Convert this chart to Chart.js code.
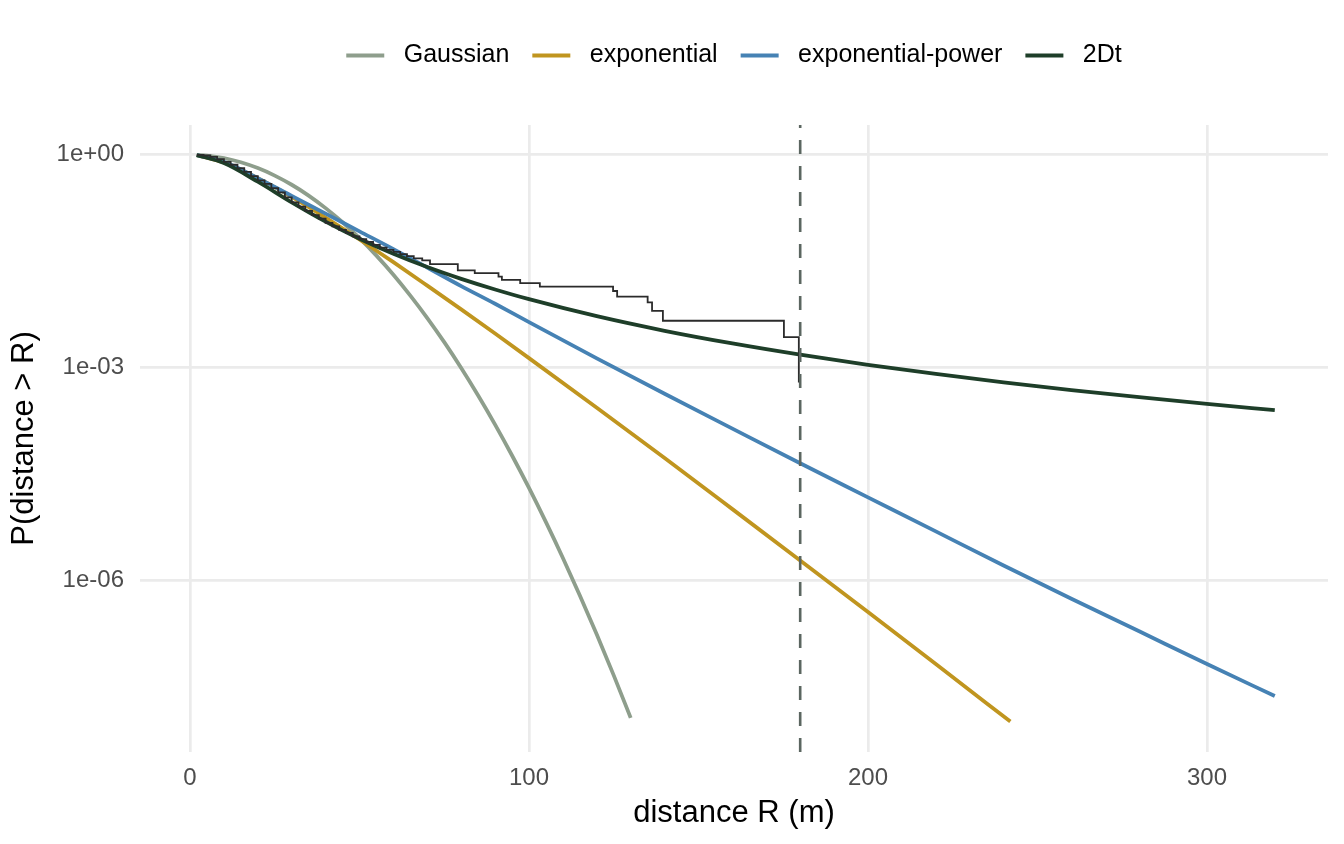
<!DOCTYPE html>
<html>
<head>
<meta charset="utf-8">
<script src="https://cdn.jsdelivr.net/npm/chart.js@4.4.1/dist/chart.umd.min.js"></script>
<style>
  html, body { margin: 0; padding: 0; background: #ffffff; }
  canvas { display: block; }
</style>
</head>
<body>
<canvas id="chart" width="1344" height="844"></canvas>
<script>
// Courbes ajustées (distance en m, P(distance > R))
const gaussianR = [2, 5, 10, 15, 20, 25, 30, 35, 40, 45, 50, 55, 60, 65, 70, 75, 80, 85, 90, 95, 100, 105, 110, 115, 120, 125, 130];
const gaussianP = [0.996, 0.973, 0.898, 0.784, 0.649, 0.509, 0.378, 0.266, 0.177, 0.112, 0.0670, 0.0379, 0.0204, 0.01035, 0.00499, 2.28e-3, 9.86e-4, 4.04e-4, 1.57e-4, 5.76e-5, 2.01e-5, 6.62e-6, 2.07e-6, 6.13e-7, 1.72e-7, 4.57e-8, 1.15e-8];

const exponentialR = [2, 10, 20, 30, 40, 50, 60, 70, 80, 90, 100, 120, 140, 160, 180, 200, 220, 242];
const exponentialP = [0.986, 0.777, 0.469, 0.255, 0.130, 0.0639, 0.0306, 0.0143, 6.62e-3, 3.02e-3, 1.36e-3, 2.72e-4, 5.30e-5, 1.01e-5, 1.91e-6, 3.57e-7, 6.61e-8, 1.02e-8];

const expPowerR = [2, 10, 20, 30, 40, 50, 60, 70, 80, 90, 100, 120, 140, 160, 180, 200, 220, 240, 260, 280, 300, 320];
const expPowerP = [0.989, 0.794, 0.468, 0.263, 0.148, 0.0832, 0.0468, 0.0257, 0.0141, 7.94e-3, 4.37e-3, 1.35e-3, 4.27e-4, 1.38e-4, 4.47e-5, 1.48e-5, 4.90e-6, 1.62e-6, 5.50e-7, 1.91e-7, 6.61e-8, 2.34e-8];

const twoDtR = [2, 10, 20, 30, 40, 50, 60, 70, 80, 90, 100, 120, 140, 160, 180, 200, 220, 240, 260, 280, 300, 320];
const twoDtP = [0.988, 0.765, 0.417, 0.213, 0.114, 0.0655, 0.0402, 0.0261, 0.0178, 0.0126, 9.20e-3, 5.30e-3, 3.30e-3, 2.19e-3, 1.52e-3, 1.09e-3, 8.13e-4, 6.19e-4, 4.82e-4, 3.82e-4, 3.08e-4, 2.51e-4];

// Survie empirique (escalier)
const empiricalR = [2, 4, 6, 8, 10, 12, 14, 16, 18, 20, 22, 24, 26, 28, 30, 32, 34, 36, 38, 40, 42, 44, 46, 48, 50, 52, 54, 56, 58, 60, 62, 64, 66, 68.5, 70.8, 79, 84, 91, 92, 97.4, 103.2, 124.8, 126, 135, 136.3, 139.5, 175.2, 179.6];
const empiricalP = [1, 0.977, 0.933, 0.871, 0.794, 0.724, 0.646, 0.575, 0.501, 0.437, 0.389, 0.339, 0.295, 0.251, 0.214, 0.186, 0.162, 0.141, 0.126, 0.110, 0.0977, 0.0871, 0.0794, 0.0708, 0.0646, 0.0589, 0.0537, 0.0490, 0.0457, 0.0427, 0.0398, 0.0372, 0.0347, 0.0324, 0.0288, 0.0234, 0.0214, 0.0191, 0.0172, 0.0155, 0.0138, 0.0120, 0.0100, 0.00832, 0.00631, 0.00457, 0.00269, 0.000617];

const seriesNames = ['Gaussian', 'exponential', 'exponential-power', '2Dt'];
const vlineX = 180;

const xTickValues = [0, 100, 200, 300];
const yTickValues = [1, 1e-3, 1e-6];
const yTickLabels = ['1e+00', '1e-03', '1e-06'];

const xMin = -14.75, xMax = 335.7;
const yMin = 3.8e-9, yMax = 2.63;

const FONT = "'Liberation Sans', Arial, Helvetica, sans-serif";

function toPoints(xs, ys) {
    return xs.map((x, i) => ({ x: x, y: ys[i] }));
}

function curve(label, xs, ys, color, order) {
    return {
        label: label,
        data: toPoints(xs, ys),
        borderColor: color,
        backgroundColor: color,
        borderWidth: 3.8,
        pointRadius: 0,
        fill: false,
        cubicInterpolationMode: 'monotone',
        order: order
    };
}

// Espace entre la légende et le graphique
const legendSpace = {
    id: 'legendSpace',
    beforeInit(chart) {
        const fit = chart.legend.fit;
        chart.legend.fit = function () {
            fit.call(this);
            this.height = 105;
        };
    }
};

const ctx = document.getElementById('chart').getContext('2d');
new Chart(ctx, {
    type: 'line',
    data: {
        datasets: [
            curve(seriesNames[0], gaussianR, gaussianP, '#8E9E8C', 5),
            curve(seriesNames[1], exponentialR, exponentialP, '#C0951F', 4),
            curve(seriesNames[2], expPowerR, expPowerP, '#4682B4', 3),
            curve(seriesNames[3], twoDtR, twoDtP, '#1E3E29', 2),
            {
                label: 'empirique',
                data: toPoints(empiricalR, empiricalP),
                borderColor: '#2B2B2B',
                backgroundColor: '#2B2B2B',
                borderWidth: 1.8,
                pointRadius: 0,
                stepped: true,
                fill: false,
                order: 1
            },
            {
                label: 'seuil',
                data: [{ x: vlineX, y: yMin }, { x: vlineX, y: yMax }],
                borderColor: '#5B6660',
                backgroundColor: '#5B6660',
                borderWidth: 2.6,
                borderDash: [14, 12],
                pointRadius: 0,
                fill: false,
                order: 0
            }
        ]
    },
    options: {
        responsive: false,
        animation: false,
        devicePixelRatio: 1,
        layout: { padding: { top: 20, right: 16, bottom: 0, left: 0 } },
        plugins: {
            tooltip: { enabled: false },
            legend: {
                position: 'top',
                align: 'center',
                fullSize: false,
                labels: {
                    color: '#000000',
                    font: { family: FONT, size: 25 },
                    boxWidth: 38,
                    boxHeight: 4,
                    padding: 23,
                    generateLabels(chart) {
                        const items = Chart.defaults.plugins.legend.labels.generateLabels(chart);
                        return items
                            .filter(it => it.datasetIndex < seriesNames.length)
                            .sort((a, b) => a.datasetIndex - b.datasetIndex)
                            .map(it => Object.assign(it, { text: ' ' + it.text, lineWidth: 0, lineDash: [] }));
                    }
                }
            }
        },
        scales: {
            x: {
                type: 'linear',
                min: xMin,
                max: xMax,
                afterBuildTicks: s => { s.ticks = xTickValues.map(v => ({ value: v })); },
                afterFit: s => { s.height = 92; },
                grid: { color: '#EBEBEB', lineWidth: 2.7, drawTicks: false },
                border: { display: false },
                ticks: {
                    autoSkip: false,
                    maxRotation: 0,
                    padding: 12,
                    color: '#4D4D4D',
                    font: { family: FONT, size: 24 }
                },
                title: {
                    display: true,
                    text: 'distance R (m)',
                    color: '#000000',
                    font: { family: FONT, size: 31 },
                    padding: { top: 0, bottom: 12 }
                }
            },
            y: {
                type: 'logarithmic',
                min: yMin,
                max: yMax,
                afterBuildTicks: s => { s.ticks = yTickValues.map(v => ({ value: v })); },
                afterFit: s => { s.width = 140; },
                grid: { color: '#EBEBEB', lineWidth: 2.7, drawTicks: false },
                border: { display: false },
                ticks: {
                    autoSkip: false,
                    padding: 16,
                    color: '#4D4D4D',
                    font: { family: FONT, size: 24 },
                    callback: v => {
                        const i = yTickValues.indexOf(v);
                        return i >= 0 ? yTickLabels[i] : '';
                    }
                },
                title: {
                    display: true,
                    text: 'P(distance > R)',
                    color: '#000000',
                    font: { family: FONT, size: 31 },
                    padding: { top: 6, bottom: 0 }
                }
            }
        }
    },
    plugins: [legendSpace]
});
</script>
</body>
</html>
